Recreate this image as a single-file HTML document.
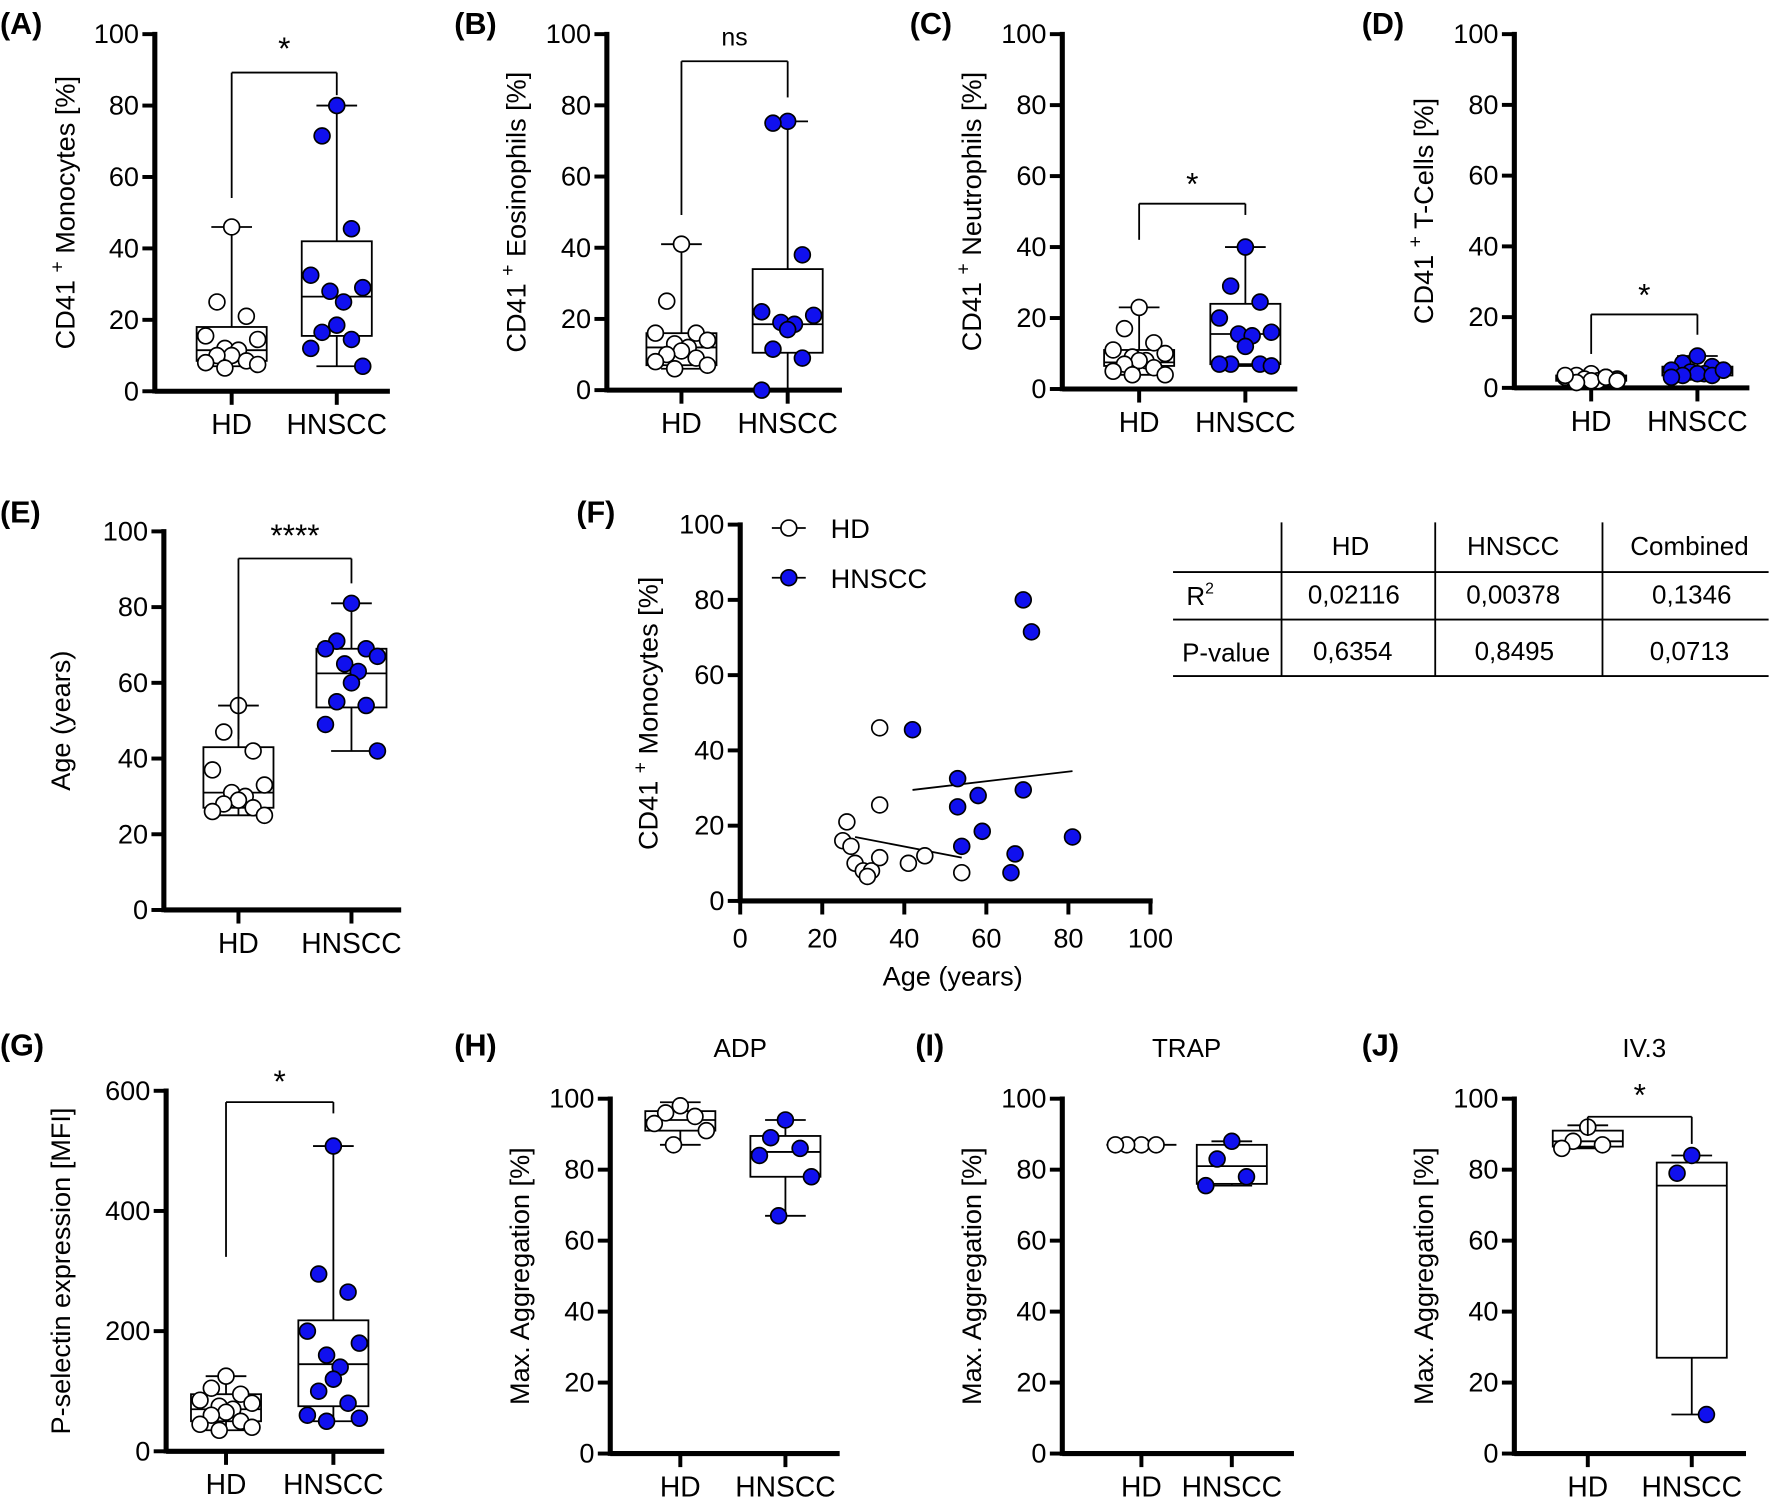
<!DOCTYPE html>
<html><head><meta charset="utf-8"><style>
html,body{margin:0;padding:0;background:#fff;}
svg{display:block;font-family:"Liberation Sans",Arial,sans-serif;}
</style></head><body>
<svg id="s" width="1772" height="1499" viewBox="0 0 1568 1326" xmlns="http://www.w3.org/2000/svg">
<rect width="1568" height="1326" fill="#fff"/>
<text x="0" y="30" font-size="27" font-weight="bold">(A)</text>
<text x="402" y="30" font-size="27" font-weight="bold">(B)</text>
<text x="805" y="30" font-size="27" font-weight="bold">(C)</text>
<text x="1205" y="30" font-size="27" font-weight="bold">(D)</text>
<text x="0" y="462" font-size="27" font-weight="bold">(E)</text>
<text x="510" y="462" font-size="27" font-weight="bold">(F)</text>
<text x="0" y="934" font-size="27" font-weight="bold">(G)</text>
<text x="402" y="934" font-size="27" font-weight="bold">(H)</text>
<text x="810" y="934" font-size="27" font-weight="bold">(I)</text>
<text x="1205" y="934" font-size="27" font-weight="bold">(J)</text>
<g id="g"></g>
<g font-size="23" text-anchor="middle" stroke="none">
<text x="1195" y="491">HD</text><text x="1339" y="491">HNSCC</text><text x="1495" y="491">Combined</text>
<text x="1062" y="535" text-anchor="middle">R<tspan font-size="14" dy="-10">2</tspan></text>
<text x="1198" y="534">0,02116</text><text x="1339" y="534">0,00378</text><text x="1497" y="534">0,1346</text>
<text x="1085" y="585">P-value</text>
<text x="1197" y="584">0,6354</text><text x="1340" y="584">0,8495</text><text x="1495" y="584">0,0713</text>
</g>
<g stroke="#000" stroke-width="1.6">
<line x1="1134" y1="462" x2="1134" y2="598"/><line x1="1270" y1="462" x2="1270" y2="598"/><line x1="1418" y1="462" x2="1418" y2="598"/>
<line x1="1038" y1="506" x2="1565" y2="506"/><line x1="1038" y1="548" x2="1565" y2="548"/><line x1="1038" y1="598" x2="1565" y2="598"/>
</g>
</svg>
<script>
var g=document.getElementById('g'),h='';var B='#1010ee';
function L(a,b,c,d,w){h+='<line x1="'+a+'" y1="'+b+'" x2="'+c+'" y2="'+d+'" stroke="#000" stroke-width="'+(w||1.6)+'"/>';}
function T(x,y,t,s,a,rot){h+='<text x="'+x+'" y="'+y+'" font-size="'+s+'" text-anchor="'+(a||'middle')+'"'+(rot?' transform="rotate(-90 '+x+' '+y+')"':'')+'>'+t+'</text>';}
function C(x,y,f){h+='<circle cx="'+x+'" cy="'+y+'" r="7" fill="'+f+'" stroke="#000" stroke-width="1.5"/>';}
function axes(p){var ax=p.ax,y0=p.y0,y1=p.y1;L(ax,y1-2,ax,y0+2,4.5);L(ax,y0,p.xe,y0,4.5);
 var n=p.ticks.length;for(var i=0;i<n;i++){var yy=y0-(y0-y1)*i/(n-1);L(ax-11,yy,ax,yy,3.5);T(ax-14,yy+8,p.ticks[i],24,'end');}
 if(p.groups){p.groups.forEach(function(gr){L(gr[0],y0,gr[0],y0+12,3.5);T(gr[0],y0+38,gr[1],25);});}
 T(p.lx,(y0+y1)/2,p.label,24,'middle',1);}
function box(p,x,v,pts,f){var s=function(u){return p.y0-(p.y0-p.y1)*u/p.max;};
 var w=31;h+='<rect x="'+(x-w)+'" y="'+s(v[3])+'" width="'+(2*w)+'" height="'+(s(v[1])-s(v[3]))+'" fill="none" stroke="#000" stroke-width="1.6"/>';
 L(x-w,s(v[2]),x+w,s(v[2]));L(x,s(v[3]),x,s(v[4]));L(x,s(v[1]),x,s(v[0]));L(x-18,s(v[4]),x+18,s(v[4]));L(x-18,s(v[0]),x+18,s(v[0]));
 var off=[0,-13,13,-23,23,-6,6];pts.forEach(function(q,i){C(x+off[i%7],s(q),f);});}
function brk(x1,x2,yt,l1,l2,t,ty,fs){L(x1,l1,x1,yt);L(x1,yt,x2,yt);L(x2,yt,x2,l2);T((x1+x2)/2,ty,t,fs||24);}
var t5=['0','20','40','60','80','100'];
function std(ax,y0,y1,x1,x2,xe,label,lx){return {ax:ax,y0:y0,y1:y1,xe:xe,ticks:t5,max:100,groups:[[x1,'HD'],[x2,'HNSCC']],label:label,lx:lx};}
var sup='CD41 <tspan dy="-10" font-size="17">+</tspan><tspan dy="10"> ';
var p=std(137,346,30,205,298,345,sup+'Monocytes [%]</tspan>',66);axes(p);
box(p,205,[7,8.5,11.5,18,46],[46,25,21,15.5,14.5,12,11.5,10,10,8.5,8,7.5,6.5],'#fff');
box(p,298,[7,15.5,26.5,42,80],[80,71.5,45.5,32.5,29,28,25,18.5,16.5,14.5,12,7],B);
brk(205,298,64,175,84,'*',52,28);
p=std(537,345,30,603,697,745,sup+'Eosinophils [%]</tspan>',465);axes(p);
box(p,603,[6,7,12,16,41],[41,25,16,16,14,13,12,11,10,9,8,7,6],'#fff');
box(p,697,[0,10.5,18.5,34,75.5],[75.5,75,38,22,21,19,18.5,17,11.5,9,0],B);
brk(603,697,54,190,86,'ns',40,22);
p=std(940,344,30,1008,1102,1148,sup+'Neutrophils [%]</tspan>',868);axes(p);
box(p,1008,[4,6.5,7.5,11,23],[23,17,13,11,10,9,8,8,7,6,5,4,4],'#fff');
box(p,1102,[6.5,7,15.5,24,40],[40,29,24.5,20,16,15.5,15,12,7,7,7,6.5],B);
brk(1008,1102,180,212,190,'*',172,28);
p=std(1340,343,30,1408,1502,1548,sup+'T-Cells [%]</tspan>',1268);axes(p);
box(p,1408,[1.5,2,2.8,3.5,4.5],[4,3.5,3,3,2.5,2.5,2,2,1.5,3,3.5,2],'#fff');
box(p,1502,[3,3.5,4.5,6,9],[9,7,6,5,5,4.5,4,4,3.5,3.5,3,5],B);
brk(1408,1502,278,313,296,'*',270,28);
p=std(145,805,470,211,311,355,'Age (years)',62);axes(p);
box(p,211,[25,27,31,43,54],[54,47,42,37,33,31,30,29,28,27,26,25],'#fff');
box(p,311,[42,53.5,62.5,69,81],[81,71,69,69,67,65,63,60,55,54,49,42],B);
brk(211,311,494,654,516,'****',483,28);
var ax=655,y0=797,y1=464,xe=1018;L(ax,y1-2,ax,y0+2,4.5);L(ax,y0,xe+2,y0,4.5);
for(var i=0;i<6;i++){var yy=y0-(y0-y1)*i/5;L(ax-11,yy,ax,yy,3.5);T(ax-14,yy+8,t5[i],24,'end');var xx=ax+(xe-ax)*i/5;L(xx,y0,xx,y0+12,3.5);T(xx,y0+41,t5[i],24);}
T(843,872,'Age (years)',24);T(582,631,sup+'Monocytes [%]</tspan>',24,'middle',1);
function fx(a){return ax+(xe-ax)*a/100;}function fy(v){return y0-(y0-y1)*v/100;}
L(fx(28),fy(17),fx(54),fy(11.5));L(fx(42),fy(29.5),fx(81),fy(34.5));
[[25,16],[27,14.5],[28,10],[26,21],[30,8],[32,8],[31,6.5],[34,11.5],[34,46],[34,25.5],[41,10],[45,12],[54,7.5]].forEach(function(q){C(fx(q[0]),fy(q[1]),'#fff');});
[[42,45.5],[53,32.5],[53,25],[54,14.5],[58,28],[59,18.5],[66,7.5],[67,12.5],[69,80],[69,29.5],[71,71.5],[81,17]].forEach(function(q){C(fx(q[0]),fy(q[1]),B);});
L(683,467,713,467);C(698,467,'#fff');T(735,476,'HD',24,'start');
L(683,511,713,511);C(698,511,B);T(735,520,'HNSCC',24,'start');
p={ax:147,y0:1284,y1:965,xe:340,ticks:['0','200','400','600'],max:600,groups:[[200,'HD'],[295,'HNSCC']],label:'P-selectin expression [MFI]',lx:62};axes(p);
box(p,200,[35,50,70,95,125],[125,105,95,85,80,75,70,65,60,50,45,40,35],'#fff');
box(p,295,[50,75,145,218,508],[508,295,265,200,180,160,140,120,100,80,60,55,50],B);
brk(200,295,975,1112,985,'*',966,28);
function ag(ax,x1,x2,xe,lx,tt,tx){var q=std(ax,1286,972,x1,x2,xe,'Max. Aggregation [%]',lx);axes(q);T(tx,935,tt,23);return q;}
p=ag(540,602,695,743,468,'ADP',655);
box(p,602,[87,91,94,96.5,99],[98,96,95,93,91,87],'#fff');
box(p,695,[67,78,85,89.5,94],[94,89,86,84,78,67],B);
p=ag(940,1010,1090,1145,868,'TRAP',1050);
box(p,1010,[87,87,87,87,87.3],[87,87,87,87],'#fff');
box(p,1090,[75.5,76,81,87,88],[88,83,78,75.5],B);
p=ag(1340,1405,1497,1545,1268,'IV.3',1455);
box(p,1405,[86,86.5,88,91,92.5],[92,88,87,86],'#fff');
box(p,1497,[11,27,75.5,82,84],[84,79,11],B);
brk(1405,1497,988,1005,1012,'*',978,28);
g.innerHTML=h;
</script>
</body></html>
